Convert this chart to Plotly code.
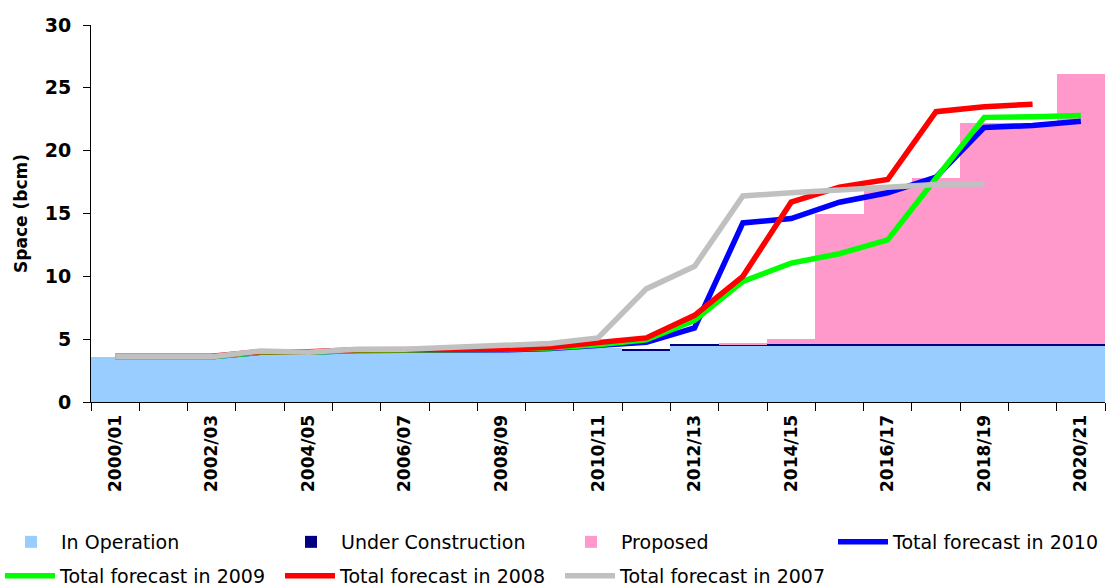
import plotly.graph_objects as go

years = ["2000/01", "2001/02", "2002/03", "2003/04", "2004/05", "2005/06", "2006/07",
         "2007/08", "2008/09", "2009/10", "2010/11", "2011/12", "2012/13", "2013/14",
         "2014/15", "2015/16", "2016/17", "2017/18", "2018/19", "2019/20", "2020/21"]

in_operation = [3.55, 3.55, 3.55, 3.8, 3.8, 3.95, 3.95, 4.0, 4.05, 4.15, 4.3, 4.1,
                4.42, 4.42, 4.42, 4.42, 4.42, 4.42, 4.42, 4.42, 4.42]
under_construction = [0, 0, 0, 0, 0, 0, 0, 0, 0, 0, 0, 0.12,
                      0.18, 0.18, 0.18, 0.18, 0.18, 0.18, 0.18, 0.18, 0.18]
proposed = [0, 0, 0, 0, 0, 0, 0, 0, 0, 0, 0, 0,
            0, 0.1, 0.4, 10.4, 12.4, 13.2, 17.6, 17.6, 21.5]

forecast_2010 = [3.6, 3.6, 3.6, 3.95, 3.95, 4.1, 4.1, 4.1, 4.15, 4.25, 4.45, 4.75,
                 5.9, 14.25, 14.6, 15.9, 16.65, 17.9, 21.85, 22.0, 22.35]
forecast_2009 = [3.6, 3.6, 3.6, 3.95, 3.95, 4.1, 4.1, 4.1, 4.2, 4.3, 4.55, 4.95,
                 6.5, 9.6, 11.05, 11.8, 12.9, 17.8, 22.65, 22.7, 22.8]
forecast_2008 = [3.65, 3.65, 3.65, 4.0, 4.0, 4.15, 4.15, 4.15, 4.2, 4.35, 4.7, 5.1,
                 6.9, 10.0, 15.9, 17.1, 17.7, 23.1, 23.5, 23.7]
forecast_2007 = [3.6, 3.6, 3.6, 4.05, 3.95, 4.2, 4.2, 4.35, 4.45, 4.65, 5.1, 9.0,
                 10.8, 16.4, 16.65, 16.9, 17.1, 17.3, 17.35]

label_years = years[::2]

xs = list(range(len(years)))

fig = go.Figure()
for name, vals, col in [("In Operation", in_operation, "#99CCFF"),
                        ("Under Construction", under_construction, "#000080"),
                        ("Proposed", proposed, "#FF99CC")]:
    fig.add_trace(go.Bar(x=xs, y=vals, name=name, marker=dict(color=col, line=dict(width=0)),
                         width=1.0, legend="legend"))

for name, vals, col, lg in [("Total forecast in 2010", forecast_2010, "#0000FF", "legend3"),
                            ("Total forecast in 2009", forecast_2009, "#00FF00", "legend2"),
                            ("Total forecast in 2008", forecast_2008, "#FF0000", "legend2"),
                            ("Total forecast in 2007", forecast_2007, "#C0C0C0", "legend2")]:
    fig.add_trace(go.Scatter(x=xs[:len(vals)], y=vals, name=name, mode="lines",
                             line=dict(color=col, width=5.5), legend=lg))

legend_common = dict(orientation="h", xanchor="left", yanchor="top",
                     xref="container", yref="container",
                     traceorder="normal", entrywidth=215, entrywidthmode="pixels",
                     font=dict(size=19, family="DejaVu Sans"), itemwidth=50,
                     bgcolor="rgba(0,0,0,0)")

fig.update_layout(
    width=1107, height=588,
    margin=dict(l=91, r=2, t=25, b=186, autoexpand=False),
    barmode="stack", bargap=0,
    plot_bgcolor="white", paper_bgcolor="white",
    font=dict(family="DejaVu Sans", color="black"),
    legend=dict(legend_common, x=1 / 1107, y=1 - 523 / 588),
    legend3=dict(legend_common, x=833 / 1107, y=1 - 523 / 588),
    legend2=dict(legend_common, x=0.0, y=1 - 557 / 588),
    xaxis=dict(range=[-0.5, 20.5], tickvals=[xs[i] for i in range(0, len(years), 2)],
               ticktext=label_years, tickangle=-90, ticks="outside", ticklen=5,
               tickcolor="rgba(0,0,0,0)", automargin=False,
               tickfont=dict(size=17, family="DejaVu Sans", weight="bold"),
               showline=True, linecolor="black", linewidth=1, showgrid=False, zeroline=False,
               minor=dict(tick0=-0.5, dtick=1, ticks="outside", ticklen=8, tickcolor="black")),
    yaxis=dict(range=[0, 30], dtick=5, ticks="outside", ticklen=7, tickcolor="black",
               showline=True, linecolor="black", linewidth=1, showgrid=False, zeroline=False,
               automargin=False,
               tickfont=dict(size=19, family="DejaVu Sans", weight="bold"),
               ticklabelstandoff=8,
               title=dict(text="Space (bcm)", font=dict(size=17, family="DejaVu Sans", weight="bold"),
                          standoff=12)),
)

fig.write_html("out.html", config={"displayModeBar": False},
               post_script="document.body.style.margin='0';document.body.style.overflow='hidden';")
